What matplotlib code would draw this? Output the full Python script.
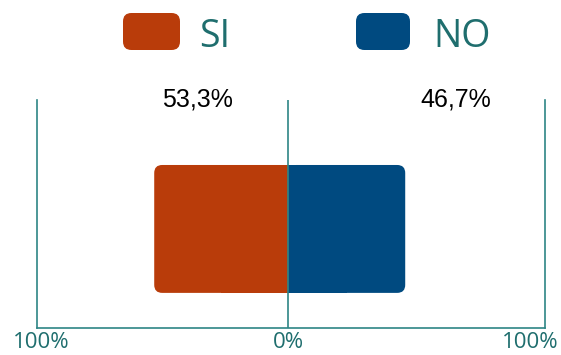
import matplotlib
matplotlib.use("Agg")
import matplotlib.pyplot as plt
from matplotlib.patches import FancyBboxPatch, Rectangle

# data
categories = ["SI", "NO"]
values = [53.3, 46.7]
value_labels = ["53,3%", "46,7%"]
colors = ["#B93C0A", "#004A80"]
tick_labels = ["100%", "0%", "100%"]

teal = "#2E8585"
teal_text = "#1F6E6E"

W, H = 561, 355
fig = plt.figure(figsize=(W / 100, H / 100), dpi=100)

# main axes: left line at x=37px, centre at 288px, right at 545px, bottom y=328px, top y=100px
ax = fig.add_axes([37 / W, (H - 328) / H, 508 / W, 228 / H])
x_right = (545 - 288) / ((288 - 37) / 100)
ax.set_xlim(-100, x_right)
ax.set_ylim(0, 1)
ax.set_xticks([])
ax.set_yticks([])
ax.spines["top"].set_visible(False)
for s in ["left", "right", "bottom"]:
    ax.spines[s].set_color(teal)
    ax.spines[s].set_linewidth(1.2)

# bars: SI to the left, NO to the right, rounded outer corners
y0, y1 = 0.154, 0.715
px_x = 508 / (100 + x_right)   # pixels per x unit
px_y = 228                     # pixels per y unit
r = 8 / px_x                   # ~8px corner radius
signs = [-1, 1]
for v, c, sgn in zip(values, colors, signs):
    x_start = 0 if sgn > 0 else -v
    box = FancyBboxPatch((x_start, y0), v, y1 - y0,
                         boxstyle=f"round,pad=0,rounding_size={r}",
                         mutation_aspect=px_x / px_y,
                         fc=c, ec="none", zorder=2)
    ax.add_patch(box)
    # square off the inner side
    half = v / 2
    sq_x = 0 if sgn > 0 else -half
    ax.add_patch(Rectangle((sq_x, y0), half, y1 - y0, fc=c, ec="none", zorder=2))

ax.axvline(0, color=teal, lw=1.2, zorder=3)

# value labels above the plot
label_x = [-36, 67]
for lx, txt in zip(label_x, value_labels):
    ax.text(lx, 1.0, txt, ha="center", va="center", fontsize=18,
            family="Liberation Sans", color="black", clip_on=False)

# bottom axis labels
for lx, txt in zip([-98.4, 0, 96.5], tick_labels):
    ax.text(lx, -0.065, txt, ha="center", va="center", fontsize=16,
            family="Open Sans", color=teal_text, clip_on=False)

# legend
leg_boxes = [(123, 180), (356, 410)]
leg_text_x = [199, 433]
for (bx0, bx1), tx, cat, c in zip(leg_boxes, leg_text_x, categories, colors):
    fig.patches.append(FancyBboxPatch((bx0 / W, (H - 50) / H), (bx1 - bx0) / W, 37 / H,
                                      boxstyle="round,pad=0,rounding_size=0.015",
                                      mutation_aspect=W / H,
                                      transform=fig.transFigure, fc=c, ec="none"))
    fig.text(tx / W, (H - 37) / H, cat, ha="left", va="center", fontsize=27,
             family="Open Sans", color=teal_text)

fig.savefig("out.png", dpi=100, facecolor="white")
